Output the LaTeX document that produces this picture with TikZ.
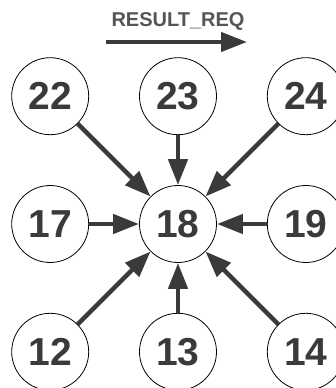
\documentclass[tikz,border=0pt]{standalone}
\usepackage{fontspec}
\setmainfont{Liberation Sans}
\usetikzlibrary{arrows.meta,positioning}
\definecolor{MsgGray}{HTML}{3A3A3A}
\definecolor{TextGray}{HTML}{555555}
\tikzset{
  cellnode/.style={
    draw,
    circle,
    line width=0.8pt,
    minimum size=77pt,
    inner sep=0pt,
    text=MsgGray,
    font=\fontsize{39}{39}\selectfont\bfseries
  },
  labelnode/.style={
    text=TextGray,
    font=\fontsize{20}{20}\selectfont\bfseries
  },
  msgarrow/.style={-{Triangle[length=26pt,width=19pt]}, line width=4.5pt, draw=MsgGray}
}

\begin{document}
\begin{tikzpicture}[node distance=50pt]
  \useasboundingbox (-178pt,-164pt) rectangle (158pt,224pt);
  % centre cell and its neighbours
  \node[cellnode] (c18) at (0,0) {18};
  \node[cellnode, left=of c18] (c17) {17};
  \node[cellnode, right=of c18] (c19) {19};
  \node[cellnode, above=of c18] (c23) {23};
  \node[cellnode, below=of c18] (c13) {13};
  \node[cellnode, above=of c17] (c22) {22};
  \node[cellnode, above=of c19] (c24) {24};
  \node[cellnode, below=of c17] (c12) {12};
  \node[cellnode, below=of c19] (c14) {14};
  % legend
  \node[labelnode] (req) at (0pt,203pt) {RESULT\_REQ};
  \coordinate (reqstart) at (-72pt,182pt);
  \coordinate (reqend) at (69pt,182pt);
  \draw[msgarrow] (reqstart) -- (reqend);
  % requests into 18
  \draw[msgarrow] (c22) -- (c18);
  \draw[msgarrow] (c23) -- (c18);
  \draw[msgarrow] (c24) -- (c18);
  \draw[msgarrow] (c17) -- (c18);
  \draw[msgarrow] (c19) -- (c18);
  \draw[msgarrow] (c12) -- (c18);
  \draw[msgarrow] (c13) -- (c18);
  \draw[msgarrow] (c14) -- (c18);
\end{tikzpicture}
\end{document}
